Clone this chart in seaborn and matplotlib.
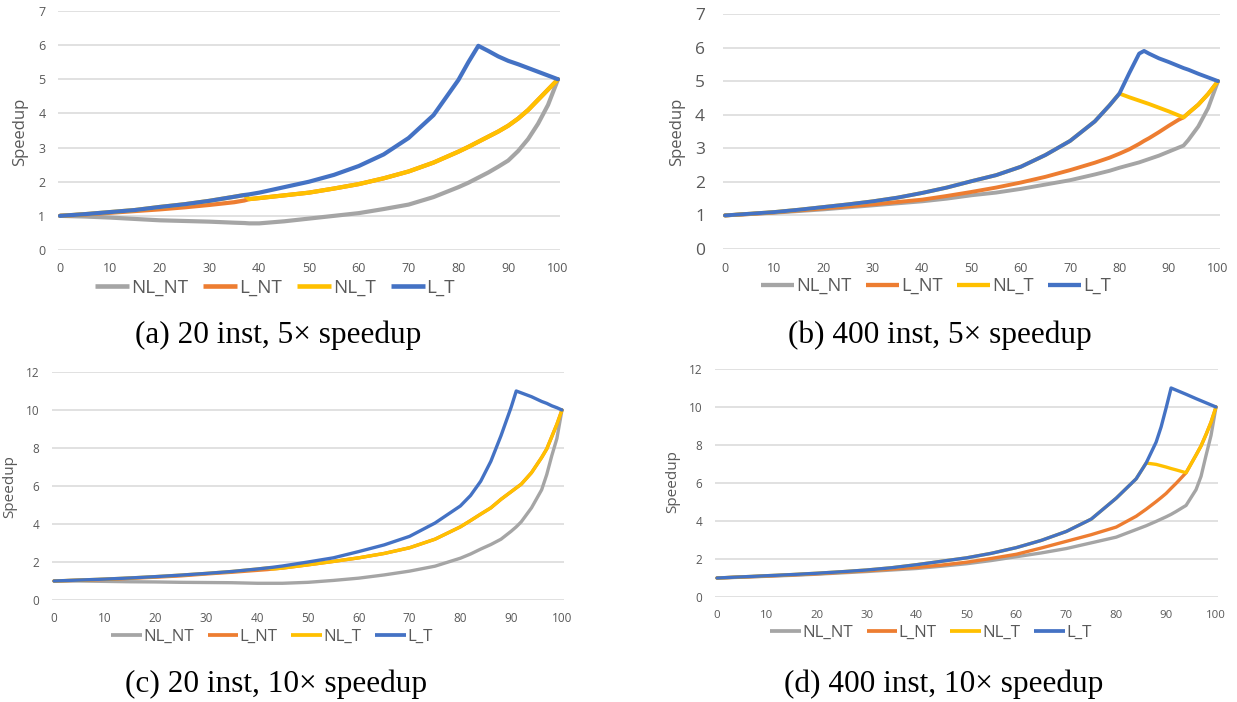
import numpy as np
import pandas as pd
import matplotlib
matplotlib.use("Agg")
import matplotlib.pyplot as plt
from matplotlib.lines import Line2D
import seaborn as sns

sns.set_theme(style="white")
plt.rcParams["font.family"] = ["Open Sans", "DejaVu Sans"]

SERIES = ["NL_NT", "L_NT", "NL_T", "L_T"]
COLORS = {"NL_NT": "#A5A5A5", "L_NT": "#ED7D31", "NL_T": "#FFC000", "L_T": "#4472C4"}

# ---- (a) 20 inst, 5x speedup ----
x_a = [0, 5, 10, 15, 20, 25, 30, 35, 37, 38, 40, 45, 50, 55, 60, 65, 70, 75, 80,
       82, 84, 86, 88, 90, 92, 94, 96, 98, 100]
a_nl_nt = [1.00, 0.98, 0.95, 0.91, 0.87, 0.85, 0.83, 0.80, 0.79, 0.78, 0.78, 0.84, 0.92,
           1.00, 1.08, 1.20, 1.33, 1.55, 1.84, 1.97, 2.12, 2.27, 2.44, 2.62, 2.90, 3.25,
           3.70, 4.25, 5.00]
a_l_nt = [1.00, 1.04, 1.09, 1.14, 1.19, 1.25, 1.32, 1.40, 1.45, 1.49, 1.52, 1.60, 1.68,
          1.80, 1.93, 2.10, 2.30, 2.56, 2.88, 3.02, 3.17, 3.32, 3.47, 3.64, 3.85, 4.10,
          4.40, 4.70, 5.00]
a_nl_t = [1.00, 1.05, 1.11, 1.17, 1.26, 1.34, 1.44, 1.56, 1.61, 1.49, 1.52, 1.60, 1.68,
          1.80, 1.93, 2.10, 2.30, 2.56, 2.88, 3.02, 3.17, 3.32, 3.47, 3.64, 3.85, 4.10,
          4.40, 4.70, 5.00]
a_l_t = [1.00, 1.05, 1.11, 1.17, 1.26, 1.34, 1.44, 1.56, 1.61, 1.63, 1.68, 1.84, 2.00,
         2.20, 2.46, 2.80, 3.28, 3.95, 4.98, 5.50, 5.98, 5.83, 5.67, 5.54, 5.44, 5.33,
         5.22, 5.11, 5.00]

# ---- (b) 400 inst, 5x speedup ----
x_b = [0, 5, 10, 15, 20, 25, 30, 35, 40, 45, 50, 55, 60, 65, 70, 75, 78, 80, 82, 84,
       85, 86, 88, 90, 92, 93, 94, 96, 98, 100]
b_nl_nt = [1.00, 1.04, 1.08, 1.13, 1.18, 1.24, 1.30, 1.36, 1.42, 1.50, 1.60, 1.68, 1.79,
           1.92, 2.05, 2.22, 2.33, 2.42, 2.50, 2.58, 2.63, 2.68, 2.78, 2.90, 3.02, 3.08,
           3.25, 3.65, 4.20, 5.00]
b_l_nt = [1.00, 1.04, 1.09, 1.15, 1.21, 1.27, 1.33, 1.40, 1.47, 1.58, 1.70, 1.83, 1.98,
          2.15, 2.35, 2.57, 2.72, 2.84, 2.97, 3.13, 3.22, 3.30, 3.48, 3.67, 3.85, 3.92,
          4.05, 4.30, 4.62, 5.00]
b_nl_t = [1.00, 1.05, 1.10, 1.17, 1.25, 1.33, 1.42, 1.53, 1.67, 1.83, 2.02, 2.20, 2.45,
          2.80, 3.22, 3.80, 4.28, 4.63, 4.52, 4.42, 4.37, 4.32, 4.21, 4.10, 3.98, 3.92,
          4.05, 4.30, 4.62, 5.00]
b_l_t = [1.00, 1.05, 1.10, 1.17, 1.25, 1.33, 1.42, 1.53, 1.67, 1.83, 2.02, 2.20, 2.45,
         2.80, 3.22, 3.80, 4.28, 4.63, 5.24, 5.82, 5.90, 5.82, 5.68, 5.57, 5.45, 5.39,
         5.34, 5.22, 5.11, 5.00]

# ---- (c) 20 inst, 10x speedup ----
x_c = [0, 5, 10, 15, 20, 25, 30, 35, 40, 42, 43, 45, 50, 55, 60, 65, 70, 75, 80, 82,
       84, 86, 88, 90, 91, 92, 94, 96, 97, 98, 99, 100]
c_nl_nt = [1.00, 1.00, 0.98, 0.96, 0.95, 0.93, 0.92, 0.91, 0.88, 0.88, 0.88, 0.88, 0.93,
           1.03, 1.15, 1.32, 1.52, 1.78, 2.20, 2.42, 2.68, 2.92, 3.20, 3.62, 3.85, 4.12,
           4.85, 5.80, 6.60, 7.60, 8.50, 10.00]
c_l_nt = [1.00, 1.04, 1.08, 1.14, 1.20, 1.27, 1.37, 1.46, 1.56, 1.60, 1.63, 1.68, 1.85,
          2.03, 2.22, 2.45, 2.75, 3.20, 3.85, 4.18, 4.52, 4.85, 5.30, 5.70, 5.90, 6.10,
          6.70, 7.50, 7.95, 8.60, 9.25, 10.00]
c_nl_t = [1.00, 1.05, 1.10, 1.16, 1.23, 1.31, 1.40, 1.50, 1.63, 1.69, 1.63, 1.68, 1.85,
          2.03, 2.22, 2.45, 2.75, 3.20, 3.85, 4.18, 4.52, 4.85, 5.30, 5.70, 5.90, 6.10,
          6.70, 7.50, 7.95, 8.60, 9.25, 10.00]
c_l_t = [1.00, 1.05, 1.10, 1.16, 1.23, 1.31, 1.40, 1.50, 1.63, 1.69, 1.72, 1.79, 2.00,
         2.22, 2.55, 2.90, 3.35, 4.05, 4.95, 5.50, 6.25, 7.30, 8.65, 10.15, 11.00, 10.90,
         10.70, 10.45, 10.35, 10.22, 10.12, 10.00]

# ---- (d) 400 inst, 10x speedup ----
x_d = [0, 5, 10, 15, 20, 25, 30, 35, 40, 45, 50, 55, 60, 65, 70, 75, 80, 84, 86, 88,
       89, 90, 91, 92, 94, 96, 97, 98, 99, 100]
d_nl_nt = [1.00, 1.04, 1.09, 1.14, 1.20, 1.27, 1.34, 1.42, 1.50, 1.62, 1.75, 1.92, 2.12,
           2.32, 2.55, 2.85, 3.15, 3.55, 3.75, 3.98, 4.10, 4.22, 4.35, 4.50, 4.82, 5.65,
           6.35, 7.45, 8.50, 10.00]
d_l_nt = [1.00, 1.05, 1.10, 1.16, 1.22, 1.30, 1.38, 1.47, 1.56, 1.68, 1.83, 2.03, 2.25,
          2.58, 2.93, 3.28, 3.68, 4.25, 4.62, 5.02, 5.23, 5.45, 5.72, 5.98, 6.54, 7.47,
          7.95, 8.55, 9.20, 10.00]
d_nl_t = [1.00, 1.06, 1.12, 1.18, 1.25, 1.33, 1.42, 1.54, 1.70, 1.88, 2.06, 2.30, 2.60,
          2.98, 3.45, 4.10, 5.20, 6.22, 7.05, 6.98, 6.91, 6.84, 6.76, 6.69, 6.54, 7.47,
          7.95, 8.55, 9.20, 10.00]
d_l_t = [1.00, 1.06, 1.12, 1.18, 1.25, 1.33, 1.42, 1.54, 1.70, 1.88, 2.06, 2.30, 2.60,
         2.98, 3.45, 4.10, 5.20, 6.22, 7.05, 8.15, 8.95, 9.95, 11.00, 10.89, 10.67, 10.44,
         10.33, 10.22, 10.11, 10.00]

CAPTIONS = ["(a) 20 inst, 5\u00d7 speedup", "(b) 400 inst, 5\u00d7 speedup",
            "(c) 20 inst, 10\u00d7 speedup", "(d) 400 inst, 10\u00d7 speedup"]

panels = [
    dict(x=x_a, ys=[a_nl_nt, a_l_nt, a_nl_t, a_l_t], ymax=7, ystep=1,
         rect=(58, 11, 560, 250), lw=3.0, ytick_fs=9, xtick_fs=9, ypad=9,
         ylab=(20, 132, 12), leg=(275, 288, 13.6), cap=(278, 335)),
    dict(x=x_b, ys=[b_nl_nt, b_l_nt, b_nl_t, b_l_t], ymax=7, ystep=1,
         rect=(723, 14, 1220, 249), lw=2.8, ytick_fs=12.5, xtick_fs=9, ypad=13,
         ylab=(677, 132, 12), leg=(936, 286, 13.2), cap=(940, 335)),
    dict(x=x_c, ys=[c_nl_nt, c_l_nt, c_nl_t, c_l_t], ymax=12, ystep=2,
         rect=(52, 372, 564, 600), lw=2.4, ytick_fs=8.5, xtick_fs=8.5, ypad=9,
         ylab=(10, 487, 11), leg=(272, 637, 12.2), cap=(276, 684)),
    dict(x=x_d, ys=[d_nl_nt, d_l_nt, d_nl_t, d_l_t], ymax=12, ystep=2,
         rect=(715, 369, 1218, 597), lw=2.4, ytick_fs=8.5, xtick_fs=8.2, ypad=9,
         ylab=(673, 482, 11), leg=(931, 633, 12.2), cap=(944, 684)),
]

W, H = 1237, 702
fig = plt.figure(figsize=(W / 100, H / 100), dpi=100)
TEXT_GREY = "#595959"

for p, caption in zip(panels, CAPTIONS):
    x0, y0, x1, y1 = p["rect"]
    ax = fig.add_axes([x0 / W, 1 - y1 / H, (x1 - x0) / W, (y1 - y0) / H])

    frames = []
    for name, vals in zip(SERIES, p["ys"]):
        frames.append(pd.DataFrame({"pct": p["x"], "speedup": vals, "series": name}))
    df = pd.concat(frames, ignore_index=True)

    sns.lineplot(data=df, x="pct", y="speedup", hue="series", hue_order=SERIES,
                 palette=COLORS, estimator=None, sort=False, legend=False,
                 linewidth=p["lw"], solid_capstyle="round", solid_joinstyle="round",
                 ax=ax)

    ax.set_xlim(-0.4, 100.4)
    ax.set_ylim(0, p["ymax"])
    ax.set_xticks(range(0, 101, 10))
    ax.set_yticks(np.arange(0, p["ymax"] + 0.01, p["ystep"]))
    ax.set_yticklabels([f"{int(v)}" for v in ax.get_yticks()])
    ax.grid(axis="y", color="#D9D9D9", linewidth=1.1)
    ax.grid(axis="x", visible=False)
    ax.set_axisbelow(True)
    for s in ax.spines.values():
        s.set_visible(False)
    ax.tick_params(axis="both", length=0, colors=TEXT_GREY)
    ax.tick_params(axis="y", labelsize=p["ytick_fs"], pad=p["ypad"])
    ax.tick_params(axis="x", labelsize=p["xtick_fs"], pad=9)
    ax.set_xlabel("")
    ax.set_ylabel("")

    lx, ly, lfs = p["ylab"]
    fig.text(lx / W, 1 - ly / H, "Speedup", rotation=90, ha="center", va="center",
             fontsize=lfs, color=TEXT_GREY)

    handles = [Line2D([], [], color=COLORS[n], linewidth=p["lw"] + 0.3,
                      solid_capstyle="butt") for n in SERIES]
    gx, gy, gfs = p["leg"]
    leg = ax.legend(handles, SERIES, loc="center", ncol=4, frameon=False,
                    bbox_to_anchor=(gx / W, 1 - gy / H), bbox_transform=fig.transFigure,
                    fontsize=gfs, handlelength=1.8, handletextpad=0.1,
                    columnspacing=0.8, borderpad=0, borderaxespad=0)
    for t in leg.get_texts():
        t.set_color(TEXT_GREY)

    cx, cy = p["cap"]
    fig.text(cx / W, 1 - cy / H, caption, ha="center", va="center",
             fontsize=22.5, family=["Liberation Serif", "DejaVu Serif"], color="black")

fig.savefig("out.png", dpi=100, facecolor="white")
